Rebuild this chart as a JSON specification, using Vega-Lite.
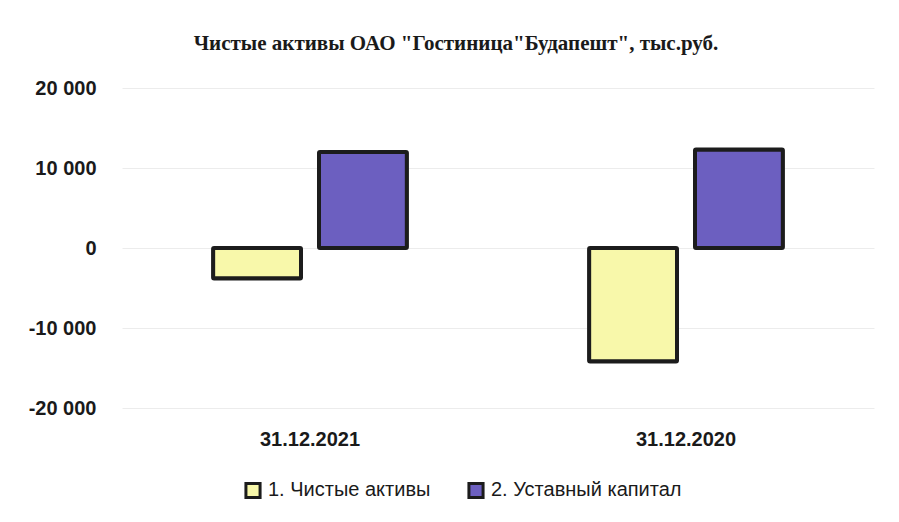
{
  "$schema": "https://vega.github.io/schema/vega-lite/v6.json",
  "width": 752,
  "height": 320,
  "autosize": {"type": "none"},
  "padding": {"left": 122, "top": 88, "right": 25, "bottom": 114},
  "background": "white",
  "title": {
    "text": "Чистые активы ОАО \"Гостиница\"Будапешт\", тыс.руб.",
    "font": "Liberation Serif",
    "fontSize": 21,
    "fontWeight": "bold",
    "color": "#1a1a1a",
    "anchor": "middle",
    "dx": -42,
    "offset": 24
  },
  "data": {
    "values": [
      {"date": "31.12.2021", "series": "1. Чистые активы", "value": -3800},
      {"date": "31.12.2021", "series": "2. Уставный капитал", "value": 12000},
      {"date": "31.12.2020", "series": "1. Чистые активы", "value": -14200},
      {"date": "31.12.2020", "series": "2. Уставный капитал", "value": 12300}
    ]
  },
  "mark": {"type": "bar", "stroke": "#1c1c1c", "strokeWidth": 4, "cornerRadius": 1},
  "encoding": {
    "x": {
      "field": "date",
      "type": "nominal",
      "sort": ["31.12.2021", "31.12.2020"],
      "scale": {"paddingInner": 0, "paddingOuter": 0},
      "axis": {
        "title": null,
        "labelAngle": 0,
        "domain": false,
        "ticks": false,
        "labelFont": "Liberation Sans",
        "labelFontSize": 20,
        "labelFontWeight": "bold",
        "labelColor": "#1a1a1a",
        "labelPadding": 21
      }
    },
    "xOffset": {
      "field": "series",
      "type": "nominal",
      "scale": {"paddingInner": 0.17, "paddingOuter": 0.86}
    },
    "y": {
      "field": "value",
      "type": "quantitative",
      "scale": {"domain": [-20000, 20000], "nice": false},
      "axis": {
        "title": null,
        "values": [-20000, -10000, 0, 10000, 20000],
        "labelExpr": "(datum.value < 0 ? '-' : '') + replace(format(abs(datum.value), ',d'), ',', ' ')",
        "domain": false,
        "ticks": false,
        "labelFont": "Liberation Sans",
        "labelFontSize": 20,
        "labelFontWeight": "bold",
        "labelColor": "#1a1a1a",
        "labelPadding": 26,
        "gridColor": "#ececec",
        "gridWidth": 1
      }
    },
    "color": {
      "field": "series",
      "type": "nominal",
      "scale": {"range": ["#f8f8aa", "#6c5fc0"]},
      "legend": {
        "title": null,
        "orient": "none",
        "legendX": 121,
        "legendY": 392,
        "direction": "horizontal",
        "symbolType": "square",
        "symbolSize": 200,
        "symbolStrokeColor": "#1c1c1c",
        "symbolStrokeWidth": 3,
        "labelFont": "Liberation Sans",
        "labelFontSize": 20,
        "labelLimit": 400,
        "labelColor": "#1a1a1a",
        "columnPadding": 31,
        "labelOffset": 5
      }
    }
  },
  "config": {"view": {"stroke": null}}
}
